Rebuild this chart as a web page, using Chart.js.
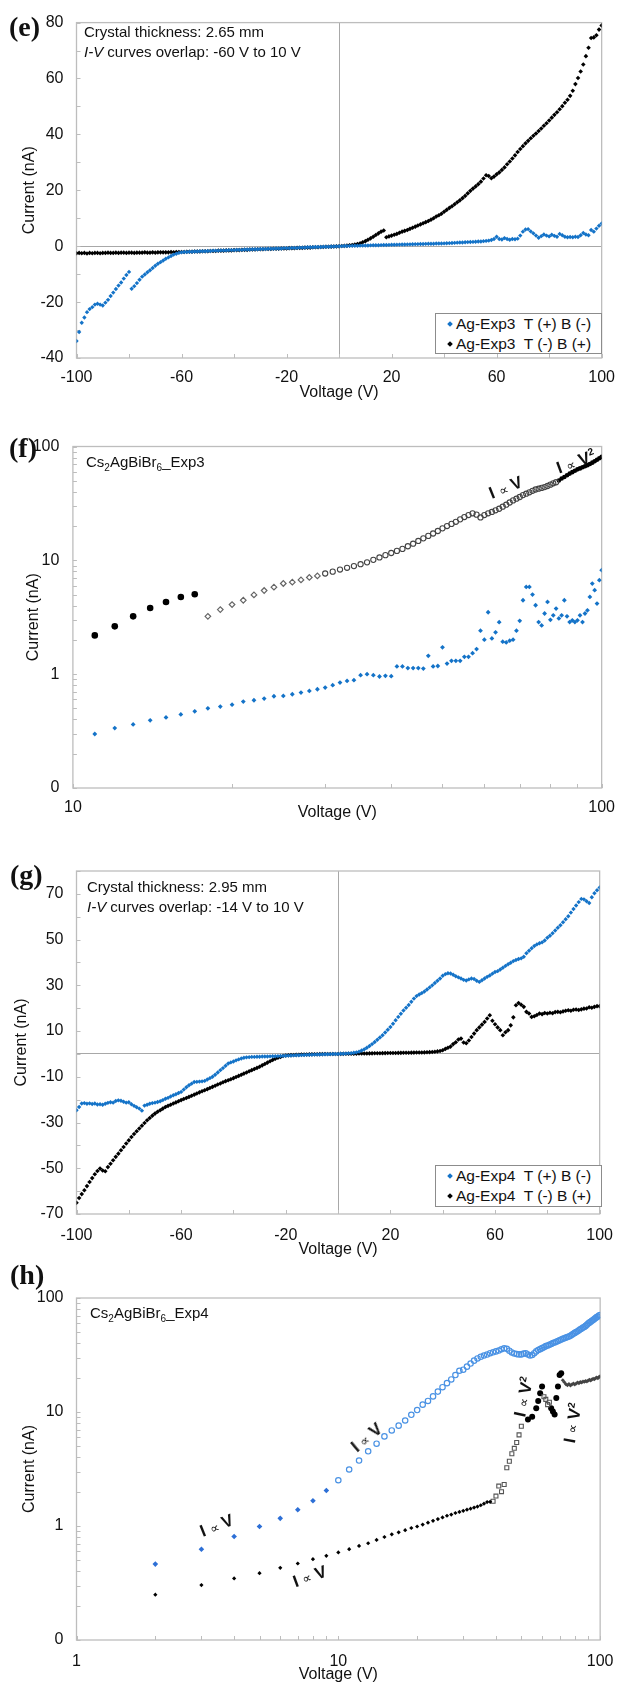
<!DOCTYPE html>
<html>
<head>
<meta charset="utf-8">
<script src="https://cdn.jsdelivr.net/npm/chart.js@4.4.1/dist/chart.umd.min.js"></script>
<style>
  body { margin: 0; background: #fff; }
  #page { position: relative; width: 625px; height: 1685px; overflow: hidden; font-family: "Liberation Sans", Arial, sans-serif; color: #111; }
  canvas { position: absolute; left: 0; }
  .tag { position: absolute; font: bold 28px "Liberation Serif", "Times New Roman", serif; line-height: 28px; }
  .note { position: absolute; font-size: 15px; line-height: 20px; white-space: nowrap; }
  .legend { position: absolute; border: 1px solid #8c8c8c; background: #fff; font-size: 15.5px; line-height: 20px; box-sizing: border-box; }
  .legend .row { position: relative; padding-left: 20px; white-space: nowrap; }
  .legend .mk { position: absolute; left: 12px; top: 8px; width: 4px; height: 4px; transform: rotate(45deg); }
  .iv { position: absolute; white-space: nowrap; font: bold 17px "Liberation Sans", Arial, sans-serif; }
  .iv .p { font-weight: normal; font-size: 13px; }
  .iv sup { font-size: 10px; }
</style>
</head>
<body>
<div id="page">
  <canvas id="chartE" width="625" height="402" style="top:0px"></canvas>
  <canvas id="chartF" width="625" height="422" style="top:400px"></canvas>
  <canvas id="chartG" width="625" height="441" style="top:818px"></canvas>
  <canvas id="chartH" width="625" height="422" style="top:1262px"></canvas>

  <div class="tag" style="left:9px;top:13px">(e)</div>
  <div class="tag" style="left:9px;top:434px">(f)</div>
  <div class="tag" style="left:10px;top:861px">(g)</div>
  <div class="tag" style="left:10px;top:1261px">(h)</div>

  <div class="note" style="left:84px;top:22px">Crystal thickness: 2.65 mm<br><i>I-V</i> curves overlap: -60 V to 10 V</div>
  <div class="note" style="left:87px;top:877px">Crystal thickness: 2.95 mm<br><i>I-V</i> curves overlap: -14 V to 10 V</div>
  <div class="note" style="left:86px;top:452px">Cs<sub style="font-size:10px">2</sub>AgBiBr<sub style="font-size:10px">6</sub>_Exp3</div>
  <div class="note" style="left:90px;top:1303px">Cs<sub style="font-size:10px">2</sub>AgBiBr<sub style="font-size:10px">6</sub>_Exp4</div>

  <div class="legend" style="left:435px;top:313px;width:167px;height:41px">
    <div class="row"><span class="mk" style="background:#1473c8"></span>Ag-Exp3&nbsp; T (+) B (-)</div>
    <div class="row"><span class="mk" style="background:#000"></span>Ag-Exp3&nbsp; T (-) B (+)</div>
  </div>
  <div class="legend" style="left:435px;top:1165px;width:167px;height:42px">
    <div class="row"><span class="mk" style="background:#1473c8"></span>Ag-Exp4&nbsp; T (+) B (-)</div>
    <div class="row"><span class="mk" style="background:#000"></span>Ag-Exp4&nbsp; T (-) B (+)</div>
  </div>

  <div class="iv" style="left:506px;top:488px;transform:translate(-50%,-50%) rotate(-22deg)">I <span class="p">&#8733;</span> V</div>
  <div class="iv" style="left:576px;top:462px;transform:translate(-50%,-50%) rotate(-20deg)">I <span class="p">&#8733;</span> V<sup>2</sup></div>
  <div class="iv" style="left:367px;top:1438px;transform:translate(-50%,-50%) rotate(-40deg)">I <span class="p">&#8733;</span> V</div>
  <div class="iv" style="left:524px;top:1397px;transform:translate(-50%,-50%) rotate(-78deg)">I <span class="p">&#8733;</span> V<sup>2</sup></div>
  <div class="iv" style="left:573px;top:1423px;transform:translate(-50%,-50%) rotate(-80deg)">I <span class="p">&#8733;</span> V<sup>2</sup></div>
  <div class="iv" style="left:217px;top:1526px;transform:translate(-50%,-50%) rotate(-22deg)">I <span class="p">&#8733;</span> V</div>
  <div class="iv" style="left:310px;top:1577px;transform:translate(-50%,-50%) rotate(-20deg)">I <span class="p">&#8733;</span> V</div>
</div>

<script>
// voltage sweep used by the linear I-V panels, -100 V .. 100 V in 1 V steps
const sweepV = Array.from({length: 201}, (_, i) => i - 100);
const range = (a, b) => Array.from({length: b - a + 1}, (_, i) => a + i);

// ---- (e) Ag-Exp3, values in nA, one per volt from -100 to 100
const eBlue = [
  -33.9, -30.7, -27.4, -25.5, -23.6, -22.5, -21.8, -20.9, -20.6, -20.9, -21.2, -20.2, -19.2, -17.8, -16.6, -15.3, -14.1, -13.0, -11.6, -10.3,
  -9.2, -15.2, -14.3, -13.2, -12.0, -10.9, -10.1, -9.3, -8.6, -7.8, -7.0, -6.3, -5.7, -5.1, -4.5, -4.0, -3.5, -3.0, -2.7, -2.4,
  -2.2, -2.1, -2.1, -2.0, -2.0, -1.9, -1.9, -1.8, -1.8, -1.8, -1.7, -1.7, -1.6, -1.6, -1.6, -1.5, -1.5, -1.5, -1.4, -1.4,
  -1.4, -1.3, -1.3, -1.3, -1.2, -1.2, -1.2, -1.1, -1.1, -1.1, -1.0, -1.0, -1.0, -0.9, -0.9, -0.9, -0.8, -0.8, -0.8, -0.7,
  -0.7, -0.7, -0.6, -0.6, -0.6, -0.5, -0.5, -0.5, -0.4, -0.4, -0.4, -0.3, -0.3, -0.3, -0.2, -0.2, -0.2, -0.1, -0.1, -0.05,
  0, 0.02, 0.05, 0.07, 0.1, 0.12, 0.15, 0.17, 0.2, 0.22, 0.25, 0.27, 0.3, 0.33, 0.35, 0.36, 0.4, 0.43, 0.45, 0.47,
  0.5, 0.52, 0.56, 0.57, 0.6, 0.63, 0.65, 0.66, 0.7, 0.73, 0.75, 0.77, 0.8, 0.84, 0.85, 0.87, 0.9, 0.94, 0.95, 0.97,
  1.0, 1.06, 1.1, 1.14, 1.2, 1.27, 1.3, 1.33, 1.4, 1.47, 1.5, 1.53, 1.6, 1.68, 1.7, 1.8, 1.9, 2.0, 2.2, 2.6,
  3.4, 2.6, 2.4, 2.9, 2.6, 2.3, 2.6, 2.5, 2.7, 3.8, 5.2, 6.0, 6.1, 5.3, 4.6, 3.8, 3.0, 3.6, 4.2, 3.8,
  3.5, 4.1, 3.7, 3.4, 4.4, 3.9, 3.4, 3.2, 3.3, 3.2, 3.4, 3.3, 3.9, 4.7, 4.2, 3.9, 5.8, 5.2, 6.3, 7.3, 8.1
];
const eBlack = [
  -2.5, -2.4, -2.5, -2.4, -2.6, -2.4, -2.5, -2.4, -2.4, -2.5, -2.4, -2.4, -2.3, -2.4, -2.4, -2.3, -2.4, -2.3, -2.3, -2.4,
  -2.3, -2.3, -2.4, -2.3, -2.3, -2.3, -2.2, -2.3, -2.3, -2.2, -2.3, -2.2, -2.2, -2.2, -2.2, -2.2, -2.1, -2.2, -2.1, -2.1,
  -2.1, -2.1, -2.0, -2.0, -2.0, -1.9, -1.9, -1.9, -1.8, -1.8, -1.8, -1.7, -1.7, -1.7, -1.6, -1.6, -1.6, -1.5, -1.5, -1.5,
  -1.4, -1.4, -1.4, -1.3, -1.3, -1.3, -1.2, -1.2, -1.2, -1.1, -1.1, -1.1, -1.0, -1.0, -1.0, -0.9, -0.9, -0.9, -0.8, -0.8,
  -0.8, -0.7, -0.7, -0.7, -0.6, -0.6, -0.6, -0.5, -0.5, -0.5, -0.4, -0.4, -0.4, -0.3, -0.3, -0.2, -0.2, -0.15, -0.1, -0.05,
  0, 0.05, 0.1, 0.2, 0.3, 0.4, 0.6, 0.8, 1.0, 1.4, 1.8, 2.3, 2.8, 3.4, 4.0, 4.6, 5.2, 5.6, 3.2, 3.5,
  3.8, 4.1, 4.4, 4.8, 5.2, 5.5, 5.8, 6.2, 6.6, 7.0, 7.4, 7.8, 8.2, 8.6, 9.0, 9.5, 10.0, 10.6, 11.1, 11.6,
  12.3, 13.0, 13.7, 14.3, 15.0, 15.7, 16.4, 17.2, 18.0, 18.9, 19.8, 20.6, 21.4, 22.2, 23.1, 24.2, 25.4, 25.1, 24.3, 24.9,
  25.7, 26.4, 27.3, 28.2, 29.3, 30.3, 31.4, 32.5, 33.7, 34.8, 35.8, 36.8, 37.7, 38.6, 39.5, 40.3, 41.2, 42.1, 43.1, 44.0,
  45.0, 46.0, 47.0, 47.9, 49.0, 50.1, 51.3, 52.4, 53.8, 55.6, 58.0, 60.2, 62.5, 65.0, 68.0, 71.0, 74.5, 74.7, 75.5, 77.5, 79.0
];

// ---- (f) Exp3 log-log, positive bias branch
const fDotV = [11, 12, 13, 14, 15, 16, 17];
const fDotI = [2.19, 2.63, 3.22, 3.81, 4.31, 4.77, 5.04];
const fDiaV = range(18, 29);
const fDiaI = [3.22, 3.69, 4.09, 4.46, 4.97, 5.43, 5.81, 6.26, 6.43, 6.73, 7.07, 7.30];
const fCircV = range(30, 82);
const fCircI = [
  7.66, 7.95, 8.3, 8.6, 8.9, 9.25, 9.6, 10.1, 10.6, 11.1,
  11.6, 12.1, 12.6, 13.3, 14.0, 14.8, 15.6, 16.4, 17.2, 18.1,
  19.1, 20.0, 20.9, 21.8, 22.9, 24.0, 25.0, 25.9, 25.2, 23.8,
  25.0, 25.9, 26.6, 27.5, 28.4, 29.6, 30.8, 32.2, 33.6, 34.8,
  36.0, 37.4, 38.5, 39.6, 40.8, 41.9, 42.6, 43.3, 44.0, 45.0,
  46.2, 47.5, 48.5
];
const fTailV = range(83, 100);
const fTailI = [50.3, 52.4, 54.0, 55.9, 57.8, 59.5, 61.3, 63.0, 64.2, 65.8, 67.1, 68.6, 70.2, 72.1, 74.3, 76.4, 78.8, 81.0];
const fBlueV = range(11, 100);
const fBlueI = [
  0.298, 0.336, 0.362, 0.393, 0.417, 0.443, 0.472, 0.501, 0.519, 0.540,
  0.574, 0.590, 0.610, 0.640, 0.644, 0.666, 0.689, 0.713, 0.737, 0.763,
  0.800, 0.844, 0.873, 0.885, 0.980, 1.0, 0.98, 0.954, 0.967, 0.96,
  1.169, 1.169, 1.13, 1.13, 1.13, 1.12, 1.45, 1.17, 1.18, 1.72,
  1.24, 1.31, 1.31, 1.31, 1.42, 1.42, 1.53, 1.66, 2.41, 2.01,
  3.5, 2.06, 2.33, 2.86, 1.93, 1.90, 1.97, 2.01, 2.41, 2.94,
  4.46, 5.84, 5.84, 5.0, 4.03, 2.87, 2.68, 3.41, 4.31, 3.0,
  3.29, 3.77, 3.09, 3.29, 4.46, 3.22, 2.87, 2.97, 2.87, 2.97,
  3.29, 2.87, 3.41, 3.64, 4.77, 6.25, 5.47, 4.17, 6.7, 8.2
];

// ---- (g) Ag-Exp4, values in nA, one per volt from -100 to 100
const gBlue = [
  -24.6, -23.2, -21.7, -21.5, -21.8, -21.6, -21.9, -21.7, -22.1, -22.0, -22.2, -21.8, -21.4, -21.1, -21.3, -20.6, -20.3, -20.5, -20.9, -21.3,
  -21.1, -22.0, -22.7, -23.3, -23.9, -24.8, -22.6, -22.2, -21.8, -21.5, -21.3, -21.0, -20.7, -20.2, -19.6, -19.2, -18.6, -18.1, -17.6, -17.1,
  -16.6, -15.6, -14.6, -13.7, -13.0, -12.3, -12.2, -12.1, -12.0, -11.8, -11.2, -10.6, -10.0, -9.1, -8.1, -7.1, -6.2, -5.2, -4.2, -3.7,
  -3.3, -2.8, -2.4, -2.0, -1.7, -1.5, -1.4, -1.3, -1.3, -1.2, -1.2, -1.15, -1.1, -1.1, -1.05, -1.0, -1.0, -0.95, -0.9, -0.85,
  -0.8, -0.75, -0.7, -0.65, -0.6, -0.55, -0.5, -0.45, -0.4, -0.35, -0.33, -0.3, -0.27, -0.24, -0.2, -0.17, -0.13, -0.1, -0.06, -0.03,
  0, 0.05, 0.1, 0.15, 0.25, 0.35, 0.5, 0.7, 1.0, 1.5, 2.0, 2.7, 3.5, 4.3, 5.2, 6.2, 7.2, 8.2, 9.4, 10.6,
  11.8, 13.2, 14.7, 16.2, 17.6, 19.0, 20.2, 21.4, 22.8, 24.2, 25.3, 26.0, 26.6, 27.3, 28.2, 29.1, 30.0, 31.0, 32.0, 33.0,
  34.2, 34.9, 35.3, 35.2, 34.6, 34.0, 33.5, 33.0, 32.4, 32.1, 32.6, 33.0, 32.8, 32.0, 31.5, 32.2, 33.0, 33.7, 34.3, 35.1,
  35.8, 36.2, 36.9, 37.7, 38.5, 39.2, 39.9, 40.6, 41.1, 41.5, 41.8, 42.5, 44.0, 45.1, 46.2, 47.2, 47.9, 48.4, 48.8, 49.6,
  50.8, 51.7, 52.8, 54.0, 55.2, 56.3, 57.6, 58.9, 60.2, 61.8, 63.4, 64.9, 66.4, 67.8, 67.6, 66.8, 66.0, 68.5, 70.3, 71.6, 72.8
];
const gBlack = [
  -65.1, -63.0, -61.3, -59.6, -57.8, -56.0, -54.3, -52.6, -51.2, -50.1, -51.0, -51.3, -49.5, -48.0, -46.5, -45.0, -43.6, -42.1, -40.7, -39.2,
  -37.8, -36.3, -35.0, -33.8, -32.6, -31.4, -30.2, -29.0, -28.0, -27.0, -26.1, -25.3, -24.6, -23.9, -23.2, -22.7, -22.2, -21.7, -21.2, -20.7,
  -20.2, -19.7, -19.3, -18.8, -18.3, -17.8, -17.3, -16.8, -16.3, -15.9, -15.4, -14.9, -14.4, -13.9, -13.4, -12.9, -12.4, -11.9, -11.5, -11.1,
  -10.6, -10.1, -9.6, -9.1, -8.6, -8.1, -7.6, -7.1, -6.6, -6.1, -5.6, -5.0, -4.4, -3.8, -3.2, -2.6, -2.1, -1.7, -1.3, -0.9,
  -0.7, -0.6, -0.5, -0.45, -0.4, -0.35, -0.3, -0.27, -0.24, -0.2, -0.17, -0.14, -0.12, -0.1, -0.08, -0.06, -0.05, -0.03, -0.02, -0.01,
  0, 0.02, 0.04, 0.06, 0.08, 0.1, 0.12, 0.14, 0.16, 0.18, 0.2, 0.22, 0.24, 0.26, 0.28, 0.3, 0.32, 0.34, 0.36, 0.38,
  0.4, 0.42, 0.44, 0.46, 0.48, 0.5, 0.52, 0.54, 0.56, 0.58, 0.6, 0.62, 0.65, 0.68, 0.72, 0.78, 0.85, 0.95, 1.1, 1.3,
  1.6, 2.2, 2.7, 3.2, 4.3, 5.1, 6.3, 6.7, 5.0, 4.7, 5.9, 7.4, 8.9, 10.4, 11.6, 12.8, 14.0, 15.5, 16.9, 14.5,
  13.0, 11.6, 10.4, 8.2, 9.5, 10.4, 12.5, 16.0, 21.3, 22.3, 21.5, 20.6, 18.4, 17.7, 16.2, 16.5, 17.0, 17.7, 17.4, 17.9,
  17.7, 18.0, 17.8, 18.3, 18.4, 18.2, 18.6, 18.9, 19.1, 18.9, 19.3, 19.4, 19.2, 19.5, 19.8, 19.9, 20.4, 20.2, 20.6, 20.9, 20.9
];

// ---- (h) Exp4 log-log
const hBlueDiaV = range(2, 9);
const hBlueDiaI = [0.463, 0.626, 0.808, 0.99, 1.167, 1.39, 1.667, 2.05];
const hBlueCircV = range(10, 100);
const hBlueCircI = [
  2.52, 3.13, 3.75, 4.52, 5.27, 6.11, 6.89, 7.59, 8.42, 9.45,
  10.4, 11.6, 12.5, 13.7, 15.1, 16.5, 17.9, 19.3, 21.1, 23.0,
  23.5, 25.0, 26.6, 28.2, 29.5, 30.5, 31.3, 31.9, 32.8, 33.4,
  34.0, 34.6, 35.5, 36.2, 35.8, 34.5, 33.3, 32.6, 32.2, 32.0,
  32.0, 32.5, 32.8, 31.9, 31.3, 31.6, 32.8, 34.0, 35.0, 35.6,
  36.3, 37.0, 37.8, 38.3, 38.8, 39.5, 40.2, 40.7, 41.3, 42.0,
  42.6, 43.2, 43.8, 44.3, 45.0, 45.4, 45.9, 46.6, 47.6, 48.5,
  49.4, 50.2, 51.1, 52.2, 53.1, 53.9, 55.0, 55.6, 56.9, 58.2,
  59.6, 60.8, 61.9, 63.1, 64.2, 65.5, 66.6, 67.9, 68.8, 70.2, 71.0
];
const hBlkDotV = range(2, 38);
const hBlkDotI = [
  0.25, 0.303, 0.347, 0.386, 0.43, 0.469, 0.512, 0.547, 0.586, 0.626,
  0.669, 0.706, 0.755, 0.801, 0.846, 0.88, 0.92, 0.96, 0.99, 1.03,
  1.07, 1.11, 1.15, 1.19, 1.23, 1.26, 1.3, 1.33, 1.36, 1.39,
  1.42, 1.45, 1.48, 1.52, 1.57, 1.62, 1.63
];
const hBlkSqV = [39, 40, 41, 42, 43, 44, 45, 46, 47, 48, 49, 50, 61, 62, 63, 64];
const hBlkSqI = [1.65, 1.83, 2.24, 2.0, 2.31, 3.24, 3.7, 4.3, 4.8, 5.4, 6.3, 7.5, 13.6, 12.9, 11.6, 12.2];
const hBlkCircV = [53, 55, 57, 58, 59, 60, 65, 66, 67, 68, 69, 70, 71];
const hBlkCircI = [8.6, 9.1, 10.8, 12.5, 14.6, 16.7, 10.8, 10.1, 9.5, 13.3, 16.7, 21.1, 21.9];
const hTailV = range(72, 100);
const hTailI = [
  19.0, 18.2, 17.5, 17.2, 17.6, 17.1, 17.4, 17.8, 17.4, 17.8,
  18.1, 17.9, 18.3, 18.1, 18.5, 18.4, 18.7, 18.5, 18.9, 19.2,
  18.9, 19.3, 19.6, 19.4, 19.8, 20.1, 19.8, 20.3, 20.6
];

// log axis tick positions (labels only on decades)
const decadeLabels = {0.1: '0', 1: '1', 10: '10', 100: '100'};
const fXTicks = [10, 20, 30, 40, 50, 60, 70, 80, 90, 100];
const logYTicks = [0.1, 0.2, 0.3, 0.4, 0.5, 0.6, 0.7, 0.8, 0.9, 1, 2, 3, 4, 5, 6, 7, 8, 9, 10, 20, 30, 40, 50, 60, 70, 80, 90, 100];
const hXTicks = [1, 2, 3, 4, 5, 6, 7, 8, 9, 10, 20, 30, 40, 50, 60, 70, 80, 90, 100];

const BLUE = '#1473c8';
const NONE = 'rgba(0,0,0,0)';

Chart.defaults.font.family = '"Liberation Sans", Arial, sans-serif';
Chart.defaults.color = '#111';

const pts = (vs, is) => vs.map((v, i) => ({x: v, y: is[i]}));

function ds(label, data, style) {
  return Object.assign({label: label, data: data, showLine: false, borderWidth: 0, pointBorderWidth: 0}, style);
}
function filled(shape, r, color) {
  return {pointStyle: shape, pointRadius: r, backgroundColor: color, borderColor: color, pointBorderWidth: 0};
}
function hollow(shape, r, color, w) {
  return {pointStyle: shape, pointRadius: r, backgroundColor: NONE, borderColor: color, pointBorderWidth: w};
}

// box around the plot area and small inward tick marks, like the original
const frame = {
  id: 'frame',
  beforeDatasetsDraw(chart) {
    const {ctx, chartArea: a, scales} = chart;
    ctx.save();
    ctx.strokeStyle = '#bdbdbd';
    ctx.lineWidth = 1.3;
    ctx.strokeRect(a.left, a.top, a.right - a.left, a.bottom - a.top);
    ctx.beginPath();
    scales.x.ticks.forEach(t => {
      const p = Math.round(scales.x.getPixelForValue(t.value)) + 0.5;
      ctx.moveTo(p, a.bottom); ctx.lineTo(p, a.bottom - 4);
    });
    scales.y.ticks.forEach(t => {
      const p = Math.round(scales.y.getPixelForValue(t.value)) + 0.5;
      ctx.moveTo(a.left, p); ctx.lineTo(a.left + 4, p);
    });
    ctx.lineWidth = 1;
    ctx.stroke();
    ctx.restore();
  }
};

function panel(id, p) {
  const tickFont = {size: 16};
  const zeroGrid = c => (p.zero && c.tick && c.tick.value === 0) ? '#a8a8a8' : NONE;
  return new Chart(document.getElementById(id), {
    type: 'scatter',
    data: {datasets: p.datasets},
    options: {
      responsive: false,
      animation: false,
      events: [],
      layout: {padding: {left: 0, top: p.area.top, right: 625 - p.area.right, bottom: 0}},
      plugins: {legend: {display: false}, tooltip: {enabled: false}},
      scales: {
        x: {
          type: p.xType, min: p.xMin, max: p.xMax,
          afterFit: s => { s.height = p.h - p.area.bottom; },
          afterBuildTicks: p.xTicks ? s => { s.ticks = p.xTicks.map(v => ({value: v})); } : undefined,
          ticks: {stepSize: p.xStep, autoSkip: false, maxRotation: 0, padding: p.xPad, font: tickFont, color: '#111', callback: p.xLabel},
          grid: {drawTicks: false, color: zeroGrid, lineWidth: 1},
          border: {display: false},
          title: {display: true, text: 'Voltage (V)', font: {size: 16}, color: '#111', padding: {top: 0, bottom: 0}}
        },
        y: {
          type: p.yType, min: p.yMin, max: p.yMax,
          afterFit: s => { s.width = p.area.left; },
          afterBuildTicks: p.yTicks ? s => { s.ticks = p.yTicks.map(v => ({value: v})); } : undefined,
          ticks: {stepSize: p.yStep, autoSkip: false, padding: p.yPad, font: tickFont, color: '#111', callback: p.yLabel},
          grid: {drawTicks: false, color: zeroGrid, lineWidth: 1},
          border: {display: false},
          title: {display: true, text: 'Current (nA)', font: {size: 16}, color: '#111', padding: {top: p.yTitlePad, bottom: 0}}
        }
      }
    },
    plugins: [frame]
  });
}

const logLabel = v => decadeLabels[v] !== undefined ? decadeLabels[v] : '';

panel('chartE', {
  h: 402, area: {left: 76.5, right: 611.8, top: 14, bottom: 358}, zero: true,
  xType: 'linear', xMin: -100, xMax: 100, xStep: 20, xPad: 10,
  xLabel: v => ((v + 100) % 40 === 0 ? v : ''),
  yType: 'linear', yMin: -40, yMax: 80, yStep: 10, yPad: 13, yTitlePad: 20,
  yLabel: v => (v % 20 === 0 ? v : ''),
  datasets: [
    ds('Ag-Exp3  T (+) B (-)', pts(sweepV, eBlue), filled('rectRot', 2.2, BLUE)),
    ds('Ag-Exp3  T (-) B (+)', pts(sweepV, eBlack), filled('rectRot', 2.3, '#000'))
  ]
});

panel('chartF', {
  h: 422, area: {left: 72.9, right: 609.8, top: 46.5, bottom: 388}, zero: false,
  xType: 'logarithmic', xMin: 10, xMax: 100, xTicks: fXTicks, xPad: 10, xLabel: logLabel,
  yType: 'logarithmic', yMin: 0.1, yMax: 100, yTicks: logYTicks, yPad: 13.5, yTitlePad: 24, yLabel: logLabel,
  datasets: [
    ds('blue', pts(fBlueV, fBlueI), filled('rectRot', 2.4, BLUE)),
    ds('dots', pts(fDotV, fDotI), filled('circle', 3.3, '#000')),
    ds('diamonds', pts(fDiaV, fDiaI), hollow('rectRot', 2.8, '#666', 1.2)),
    ds('circles', pts(fCircV, fCircI), hollow('circle', 2.6, '#444', 1.1)),
    ds('tail', pts(fTailV, fTailI), filled('circle', 2.3, '#000'))
  ]
});

panel('chartG', {
  h: 441, area: {left: 76.5, right: 610, top: 53, bottom: 396}, zero: true,
  xType: 'linear', xMin: -100, xMax: 100, xStep: 20, xPad: 12,
  xLabel: v => ((v + 100) % 40 === 0 ? v : ''),
  yType: 'linear', yMin: -70, yMax: 80, yStep: 10, yPad: 13, yTitlePad: 12,
  yLabel: v => ((v + 70) % 20 === 0 ? v : ''),
  datasets: [
    ds('Ag-Exp4  T (+) B (-)', pts(sweepV, gBlue), filled('rectRot', 2.2, BLUE)),
    ds('Ag-Exp4  T (-) B (+)', pts(sweepV, gBlack), filled('rectRot', 2.3, '#000'))
  ]
});

panel('chartH', {
  h: 422, area: {left: 76.5, right: 609.8, top: 36, bottom: 378}, zero: false,
  xType: 'logarithmic', xMin: 1, xMax: 100, xTicks: hXTicks, xPad: 11.5, xLabel: logLabel,
  yType: 'logarithmic', yMin: 0.1, yMax: 100, yTicks: logYTicks, yPad: 13, yTitlePad: 20, yLabel: logLabel,
  datasets: [
    ds('blue diamonds', pts(hBlueDiaV, hBlueDiaI), filled('rectRot', 2.8, '#2d6fd6')),
    ds('blue circles', pts(hBlueCircV, hBlueCircI), hollow('circle', 2.7, '#4a92e4', 1.2)),
    ds('black dots', pts(hBlkDotV, hBlkDotI), filled('rectRot', 2.1, '#000')),
    ds('black squares', pts(hBlkSqV, hBlkSqI), hollow('rect', 2.8, '#555', 1.1)),
    ds('black circles', pts(hBlkCircV, hBlkCircI), filled('circle', 3, '#000')),
    ds('black tail', pts(hTailV, hTailI), filled('rectRot', 2, '#444'))
  ]
});
</script>
</body>
</html>
